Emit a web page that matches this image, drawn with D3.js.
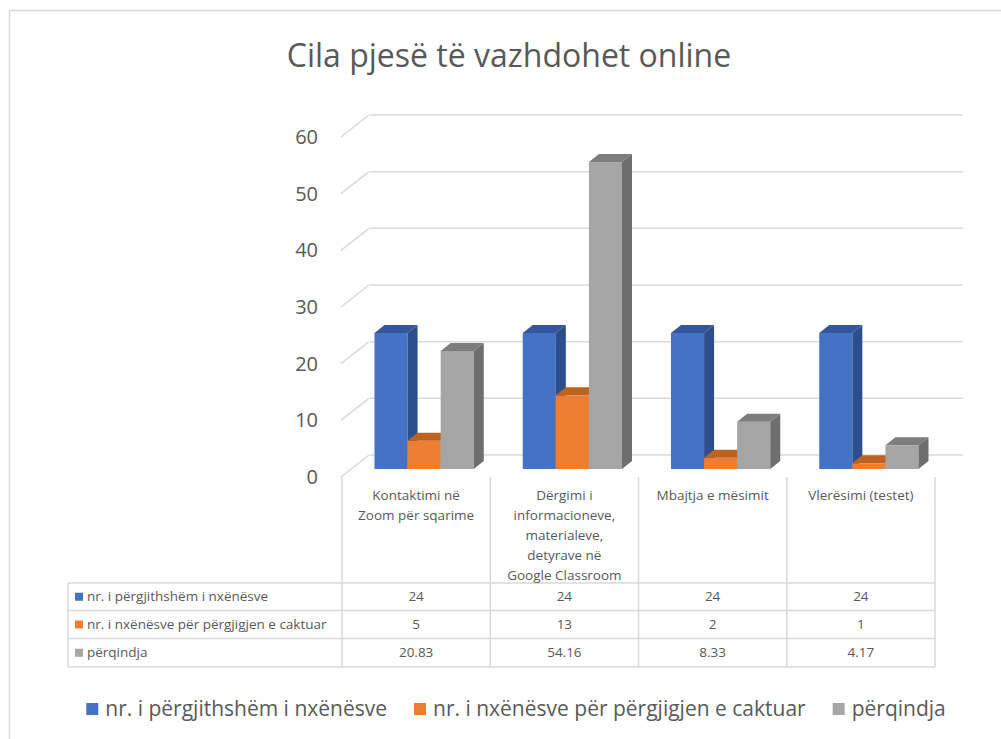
<!DOCTYPE html>
<html>
<head>
<meta charset="utf-8">
<script src="https://cdn.jsdelivr.net/npm/d3@7"></script>
<style>
  body { margin: 0; background: #fff; }
  text { font-family: "Open Sans", "Liberation Sans", sans-serif; fill: #595959; }
</style>
</head>
<body>
<div id="chart"></div>
<script>
/* chart data */
var title = "Cila pjesë të vazhdohet online"
var categories = ["Kontaktimi", "Dergimi", "Mbajtja", "Vleresimi"]
var categoryLines = [
  ["Kontaktimi në", "Zoom për sqarime"],
  ["Dërgimi i", "informacioneve,", "materialeve,", "detyrave në", "Google Classroom"],
  ["Mbajtja e mësimit"],
  ["Vlerësimi (testet)"]
]
var seriesNames = ["nr. i përgjithshëm i nxënësve", "nr. i nxënësve për përgjigjen e caktuar", "përqindja"]
var totalStudents = [24, 24, 24, 24]
var answeredStudents = [5, 13, 2, 1]
var percentage = [20.83, 54.16, 8.33, 4.17]
var yTicks = [0, 10, 20, 30, 40, 50, 60]

var seriesValues = [totalStudents, answeredStudents, percentage]

/* colors per series: front, side, top */
var seriesColors = [
  { front: "#4472C4", side: "#2D4E8C", top: "#33579A" },
  { front: "#ED7D31", side: "#B35C1E", top: "#BD6322" },
  { front: "#A5A5A5", side: "#6E6E6E", top: "#7D7D7D" }
]

/* layout */
var width = 1001
    height = 739
    gridColor = "#d9d9d9"
    wallDepth = { x: 28, y: -22 }
    barShift = { x: 8, y: -8 }
    barDepth = { x: 10, y: -8 }
    tableLeft = 68
    tableRows = [583, 610.5, 638.5, 667]

var svg = d3.select("#chart")
  .append("svg")
  .attr("width", width)
  .attr("height", height)

/* outer border */
svg.append("rect")
  .attr("x", 9.5)
  .attr("y", 10.5)
  .attr("width", 1100)
  .attr("height", 900)
  .attr("fill", "none")
  .attr("stroke", gridColor)
  .attr("stroke-width", 1.5)

/* title */
svg.append("text")
  .attr("x", 509)
  .attr("y", 67)
  .attr("text-anchor", "middle")
  .style("font-size", "32px")
  .text(title)

/* scales in the front plane */
var x = d3.scaleBand()
  .domain(categories)
  .range([342, 935])

var xSeries = d3.scaleBand()
  .domain(d3.range(seriesNames.length))
  .range([0, x.bandwidth()])
  .paddingOuter(0.74)

var y = d3.scaleLinear()
  .domain([0, 60])
  .range([477, 137])

/* back wall gridlines + side wall diagonals */
var grid = svg.append("g").attr("class", "grid")

grid.selectAll(".back")
  .data(yTicks)
  .enter()
  .append("line")
  .attr("x1", 342 + wallDepth.x)
  .attr("x2", 935 + wallDepth.x)
  .attr("y1", function(d) { return y(d) + wallDepth.y })
  .attr("y2", function(d) { return y(d) + wallDepth.y })
  .attr("stroke", gridColor)
  .attr("stroke-width", 1.5)

grid.selectAll(".side")
  .data(yTicks)
  .enter()
  .append("line")
  .attr("x1", 341)
  .attr("x2", 341 + wallDepth.x)
  .attr("y1", function(d) { return y(d) })
  .attr("y2", function(d) { return y(d) + wallDepth.y })
  .attr("stroke", gridColor)
  .attr("stroke-width", 1.5)

/* y axis labels */
svg.append("g")
  .selectAll("text")
  .data(yTicks)
  .enter()
  .append("text")
  .attr("x", 318)
  .attr("y", function(d) { return y(d) })
  .attr("dy", "0.35em")
  .attr("text-anchor", "end")
  .style("font-size", "20px")
  .text(function(d) { return d })

/* 3d bars */
function barPoints(s, i) {
  var v = seriesValues[s][i]
  var x0 = x(categories[i]) + xSeries(s) + barShift.x
  var x1 = x0 + xSeries.bandwidth()
  var yb = y(0) + barShift.y
  var yt = y(v) + barShift.y
  return { x0: x0, x1: x1, yb: yb, yt: yt }
}

seriesValues.forEach(function(vals, s) {
  var g = svg.append("g").attr("class", "series s" + s)
  var cells = g.selectAll(".bar")
    .data(vals)
    .enter()
    .append("g")
    .attr("class", "bar")

  cells.append("rect")
    .attr("x", function(d, i) { return barPoints(s, i).x0 })
    .attr("y", function(d, i) { return barPoints(s, i).yt })
    .attr("width", xSeries.bandwidth())
    .attr("height", function(d, i) { var p = barPoints(s, i); return p.yb - p.yt })
    .attr("fill", seriesColors[s].front)

  cells.append("polygon")
    .attr("points", function(d, i) {
      var p = barPoints(s, i)
      return [[p.x1, p.yt], [p.x1 + barDepth.x, p.yt + barDepth.y],
              [p.x1 + barDepth.x, p.yb + barDepth.y], [p.x1, p.yb]].join(" ")
    })
    .attr("fill", seriesColors[s].side)

  cells.append("polygon")
    .attr("points", function(d, i) {
      var p = barPoints(s, i)
      return [[p.x0, p.yt], [p.x0 + barDepth.x, p.yt + barDepth.y],
              [p.x1 + barDepth.x, p.yt + barDepth.y], [p.x1, p.yt]].join(" ")
    })
    .attr("fill", seriesColors[s].top)
})

/* data table */
var table = svg.append("g").attr("class", "table")
var colEdges = categories.map(function(c) { return x(c) }).concat([x(categories[3]) + x.bandwidth()])

table.selectAll(".vline")
  .data(colEdges)
  .enter()
  .append("line")
  .attr("x1", function(d) { return d })
  .attr("x2", function(d) { return d })
  .attr("y1", 477)
  .attr("y2", tableRows[3])
  .attr("stroke", gridColor)
  .attr("stroke-width", 1.5)

table.append("line")
  .attr("x1", tableLeft)
  .attr("x2", tableLeft)
  .attr("y1", tableRows[0])
  .attr("y2", tableRows[3])
  .attr("stroke", gridColor)
  .attr("stroke-width", 1.5)

table.selectAll(".hline")
  .data(tableRows)
  .enter()
  .append("line")
  .attr("x1", tableLeft)
  .attr("x2", colEdges[4])
  .attr("y1", function(d) { return d })
  .attr("y2", function(d) { return d })
  .attr("stroke", gridColor)
  .attr("stroke-width", 1.5)

/* category headers */
categoryLines.forEach(function(lines, i) {
  table.append("g")
    .selectAll("text")
    .data(lines)
    .enter()
    .append("text")
    .attr("x", x(categories[i]) + x.bandwidth() / 2)
    .attr("y", function(d, j) { return 500 + j * 20 })
    .attr("text-anchor", "middle")
    .style("font-size", "13.5px")
    .text(function(d) { return d })
})

/* table rows */
seriesNames.forEach(function(name, s) {
  var rowMid = (tableRows[s] + tableRows[s + 1]) / 2
  table.append("rect")
    .attr("x", 75)
    .attr("y", rowMid - 4)
    .attr("width", 8)
    .attr("height", 8)
    .attr("fill", seriesColors[s].front)
  table.append("text")
    .attr("x", 87)
    .attr("y", rowMid)
    .attr("dy", "0.35em")
    .style("font-size", "13.5px")
    .text(name)
  table.append("g")
    .selectAll("text")
    .data(seriesValues[s])
    .enter()
    .append("text")
    .attr("x", function(d, i) { return x(categories[i]) + x.bandwidth() / 2 })
    .attr("y", rowMid)
    .attr("dy", "0.35em")
    .attr("text-anchor", "middle")
    .style("font-size", "13.5px")
    .text(function(d) { return d })
})

/* legend */
var legend = svg.append("g").attr("class", "legend")
var legendX = 0
var legendItems = seriesNames.map(function(name, s) {
  var item = legend.append("g")
  item.append("rect")
    .attr("y", 703)
    .attr("width", 12)
    .attr("height", 12)
    .attr("fill", seriesColors[s].front)
  var t = item.append("text")
    .attr("x", 19)
    .attr("y", 709)
    .attr("dy", "0.35em")
    .style("font-size", "21px")
    .text(name)
  var w = 19 + t.node().getComputedTextLength()
  item.attr("transform", "translate(" + legendX + ",0)")
  legendX += w + 27
  return item
})
var legendWidth = legendX - 27
legend.attr("transform", "translate(" + (516 - legendWidth / 2) + ",0)")
</script>
</body>
</html>
